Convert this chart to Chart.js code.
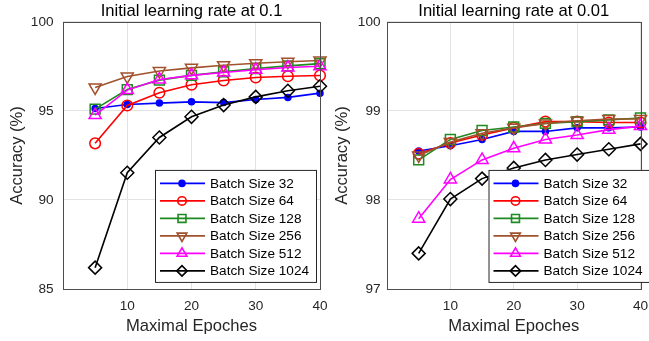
<!DOCTYPE html>
<html>
<head>
<meta charset="utf-8">
<script src="https://cdn.jsdelivr.net/npm/chart.js"></script>
<style>
  body { margin: 0; background: #fff; }
  #wrap { position: relative; width: 649px; height: 341px; overflow: hidden; }
  canvas { position: absolute; top: 0; }
  #c1 { left: 0; }
  #c2 { left: 330px; }
</style>
</head>
<body>
<div id="wrap">
  <canvas id="c1" width="330" height="341"></canvas>
  <canvas id="c2" width="319" height="341"></canvas>
</div>
<script>
// x values (maximal epochs) and tick labels
const epochs = [5, 10, 15, 20, 25, 30, 35, 40];
const xTicks = [10, 20, 30, 40];
const seriesNames = ["Batch Size 32", "Batch Size 64", "Batch Size 128", "Batch Size 256", "Batch Size 512", "Batch Size 1024"];

// initial learning rate 0.1
const lr01_bs32   = [95.14, 95.36, 95.44, 95.51, 95.47, 95.64, 95.76, 96.00];
const lr01_bs64   = [93.18, 95.31, 96.02, 96.47, 96.71, 96.88, 96.95, 96.99];
const lr01_bs128  = [95.10, 96.20, 96.73, 97.00, 97.20, 97.38, 97.53, 97.66];
const lr01_bs256  = [96.32, 96.94, 97.24, 97.42, 97.57, 97.68, 97.76, 97.83];
const lr01_bs512  = [94.77, 96.17, 96.77, 97.00, 97.16, 97.31, 97.44, 97.51];
const lr01_bs1024 = [86.20, 91.53, 93.51, 94.67, 95.33, 95.79, 96.13, 96.39];

// initial learning rate 0.01
const lr001_bs32   = [98.55, 98.61, 98.68, 98.77, 98.77, 98.81, 98.81, 98.82];
const lr001_bs64   = [98.52, 98.64, 98.73, 98.81, 98.88, 98.88, 98.87, 98.87];
const lr001_bs128  = [98.45, 98.68, 98.78, 98.82, 98.86, 98.88, 98.90, 98.92];
const lr001_bs256  = [98.50, 98.65, 98.75, 98.81, 98.86, 98.89, 98.91, 98.91];
const lr001_bs512  = [97.79, 98.23, 98.45, 98.58, 98.68, 98.73, 98.79, 98.83];
const lr001_bs1024 = [97.40, 98.01, 98.24, 98.36, 98.45, 98.51, 98.57, 98.63];

const FONT = "Arial, 'Liberation Sans', sans-serif";
const TEXT = "#262626";

// matlab-ish line styles: '.-', 'o-', 's-', 'v-', '^-', 'd-'
const styles = [
  { color: "#0000ff", pointStyle: "circle",   radius: 3,   rotation: 0,   fill: "#0000ff" },
  { color: "#ff0000", pointStyle: "circle",   radius: 5.3, rotation: 0,   fill: "transparent" },
  { color: "#1f8a1f", pointStyle: "rect",     radius: 7,   rotation: 0,   fill: "transparent" },
  { color: "#a0522d", pointStyle: "triangle", radius: 7,   rotation: 180, fill: "transparent" },
  { color: "#ff00ff", pointStyle: "triangle", radius: 7,   rotation: 0,   fill: "transparent" },
  { color: "#000000", pointStyle: "rectRot",  radius: 6.5, rotation: 0,   fill: "transparent" }
];

function makeDatasets(series) {
  return series.map((vals, i) => ({
    label: seriesNames[i],
    data: epochs.map((x, k) => ({ x: x, y: vals[k] })),
    borderColor: styles[i].color,
    borderWidth: 1.6,
    pointStyle: styles[i].pointStyle,
    pointRadius: styles[i].radius,
    pointRotation: styles[i].rotation,
    pointBackgroundColor: styles[i].fill,
    pointBorderColor: styles[i].color,
    pointBorderWidth: 1.5,
    tension: 0,
    clip: false,
    order: series.length - i
  }));
}

// axes box + legend drawn inside the plot like matlab does
const boxPlugin = {
  id: "matlabBox",
  afterDatasetsDraw(chart) {
    const a = chart.chartArea, ctx = chart.ctx;
    ctx.save();
    ctx.strokeStyle = "#4d4d4d";
    ctx.lineWidth = 1;
    ctx.strokeRect(Math.round(a.left) + 0.5, Math.round(a.top) + 0.5,
                   Math.round(a.right - a.left), Math.round(a.bottom - a.top));
    ctx.restore();
  },
  afterDraw(chart, args, opts) {
    const a = chart.chartArea, ctx = chart.ctx;
    const x = a.right + opts.dx, y = a.top + opts.dy;
    const w = 161, rowH = 17.5;
    const h = rowH * chart.data.datasets.length + 7;
    ctx.save();
    ctx.fillStyle = "#fff";
    ctx.fillRect(x, y, w, h);
    ctx.strokeStyle = "#262626";
    ctx.lineWidth = 1;
    ctx.strokeRect(x + 0.5, y + 0.5, w, h);
    chart.data.datasets.forEach((ds, i) => {
      const cy = y + 13.5 + i * rowH;
      ctx.strokeStyle = ds.borderColor;
      ctx.lineWidth = ds.borderWidth;
      ctx.beginPath();
      ctx.moveTo(x + 5, cy);
      ctx.lineTo(x + 50, cy);
      ctx.stroke();
      ctx.fillStyle = ds.pointBackgroundColor;
      Chart.helpers.drawPoint(ctx, {
        pointStyle: ds.pointStyle,
        rotation: ds.pointRotation,
        radius: i === 0 ? ds.pointRadius : ds.pointRadius * 0.8,
        borderWidth: ds.pointBorderWidth
      }, x + 27, cy);
      ctx.fillStyle = "#000";
      ctx.font = "13.6px " + FONT;
      ctx.textBaseline = "middle";
      ctx.textAlign = "left";
      ctx.fillText(ds.label, x + 55, cy + 0.5);
    });
    ctx.restore();
  }
};

function makeChart(id, title, series, yMin, yMax, yStep, cfg) {
  return new Chart(document.getElementById(id), {
    type: "line",
    data: { datasets: makeDatasets(series) },
    plugins: [boxPlugin],
    options: {
      responsive: false,
      animation: false,
      events: [],
      layout: { padding: { left: 0, right: cfg.padRight, top: 0, bottom: 0 } },
      plugins: {
        legend: { display: false },
        tooltip: { enabled: false },
        title: {
          display: true,
          text: title,
          color: "#000",
          fullSize: false,
          align: "center",
          font: { family: FONT, size: 16.6, weight: "normal" },
          padding: { top: 1, bottom: 1 }
        },
        matlabBox: { dx: cfg.legendDx, dy: 148 }
      },
      scales: {
        x: {
          type: "linear",
          min: 0,
          max: 40,
          afterBuildTicks: (axis) => { axis.ticks = xTicks.map(v => ({ value: v })); },
          afterFit: (s) => { s.height = 52; s.paddingLeft = 0; s.paddingRight = 0; },
          grid: { color: "#e3e3e3", drawTicks: false },
          border: { display: false },
          ticks: { color: TEXT, font: { family: FONT, size: 13.6 }, padding: 9, maxRotation: 0, autoSkip: false },
          title: {
            display: true,
            text: "Maximal Epoches",
            color: TEXT,
            font: { family: FONT, size: 16.6 },
            padding: { top: 0, bottom: 5 }
          }
        },
        y: {
          min: yMin,
          max: yMax,
          afterFit: (s) => { s.width = cfg.yWidth; s.paddingTop = 0; s.paddingBottom = 0; },
          grid: { color: "#e3e3e3", drawTicks: false },
          border: { display: false },
          ticks: { stepSize: yStep, color: TEXT, font: { family: FONT, size: 13.6 }, padding: cfg.yTickPad },
          title: {
            display: true,
            text: "Accuracy (%)",
            color: TEXT,
            font: { family: FONT, size: 16.6 },
            padding: { top: cfg.yTitlePad, bottom: 0 }
          }
        }
      }
    }
  });
}

makeChart("c1", "Initial learning rate at 0.1",
  [lr01_bs32, lr01_bs64, lr01_bs128, lr01_bs256, lr01_bs512, lr01_bs1024],
  85, 100, 5, { padRight: 10, yWidth: 63, yTickPad: 9.5, yTitlePad: 7, legendDx: -165 });

makeChart("c2", "Initial learning rate at 0.01",
  [lr001_bs32, lr001_bs64, lr001_bs128, lr001_bs256, lr001_bs512, lr001_bs1024],
  97, 100, 1, { padRight: 5, yWidth: 57, yTickPad: 6.5, yTitlePad: 2, legendDx: -152 });
</script>
</body>
</html>
